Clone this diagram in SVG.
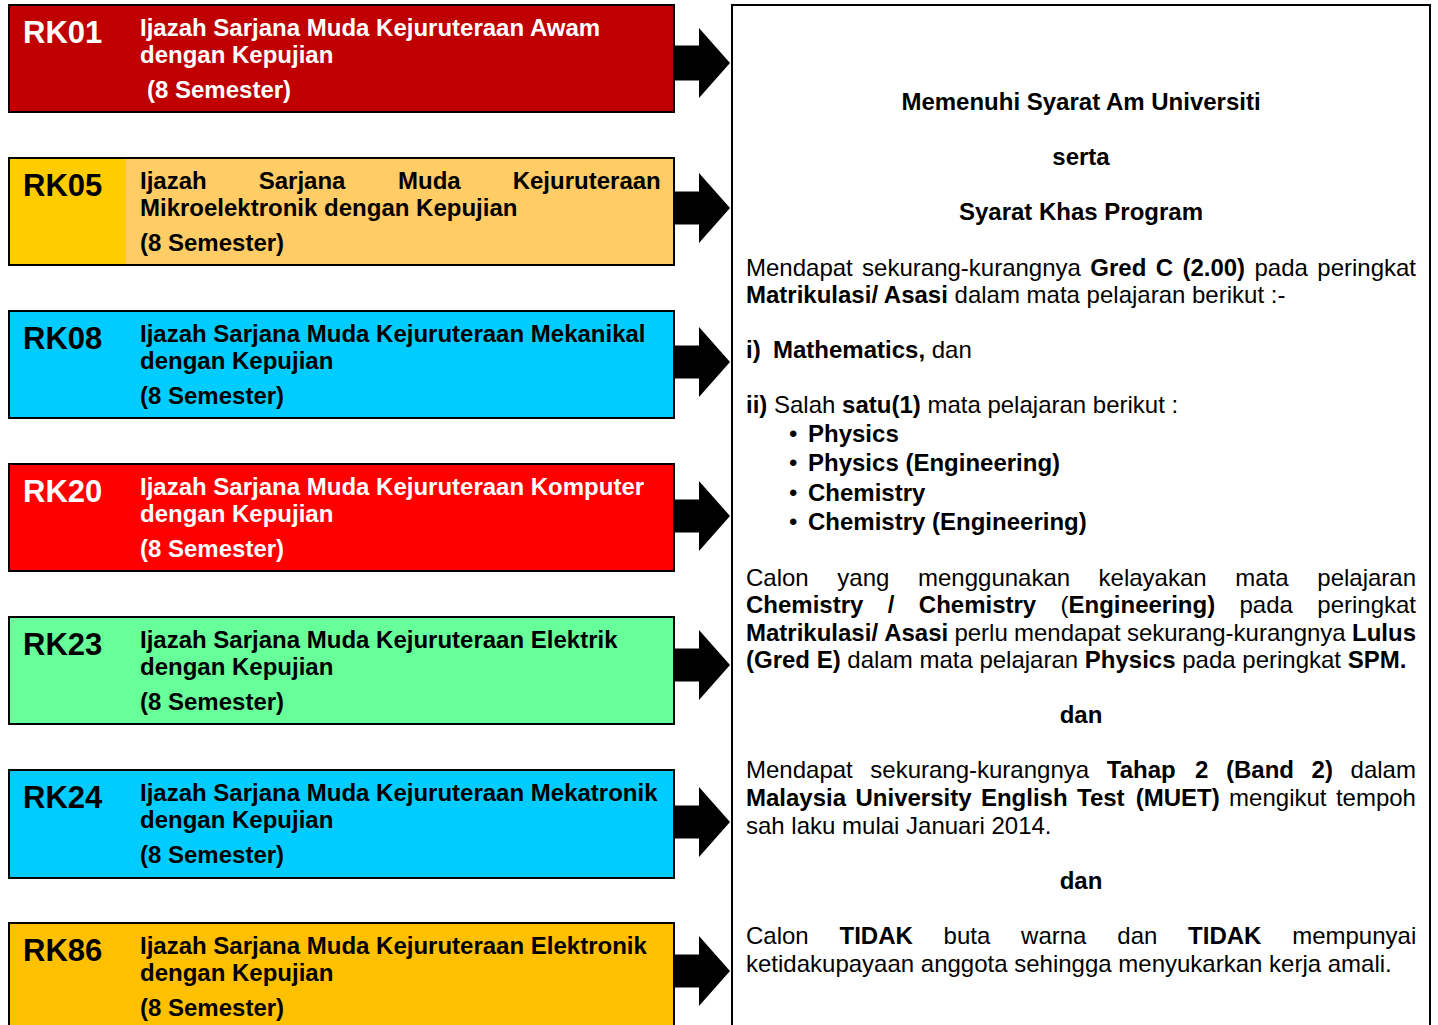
<svg xmlns="http://www.w3.org/2000/svg" width="1438" height="1025" viewBox="0 0 1438 1025">
<style>
text{font-family:"Liberation Sans",Arial,sans-serif;font-size:24px;fill:#000}
.b{font-weight:bold}
.code{font-weight:bold;font-size:31px}
.w{fill:#fff}
.box{stroke:#000;stroke-width:2}
.arrow{fill:#000}
.panel{fill:#fff;stroke:#000;stroke-width:2}
</style>
<rect width="1438" height="1025" fill="#fff"/>

<g id="rk01">
<rect class="box" x="9" y="5" width="665" height="107" fill="#C00000"/>
<text class="code w" x="23" y="43">RK01</text>
<text class="b w" x="140" y="36">Ijazah Sarjana Muda Kejuruteraan Awam</text>
<text class="b w" x="140" y="63">dengan Kepujian</text>
<text class="b w" x="147" y="98">(8 Semester)</text>
</g>

<g id="rk05">
<rect class="box" x="9" y="158" width="665" height="107" fill="#FFCC66"/>
<rect x="10" y="159" width="116" height="105" fill="#FFCC00"/>
<text class="code" x="23" y="196">RK05</text>
<text class="b" y="189"><tspan x="140">Ijazah</tspan><tspan x="258.7">Sarjana</tspan><tspan x="398">Muda</tspan><tspan x="512.7">Kejuruteraan</tspan></text>
<text class="b" x="140" y="216">Mikroelektronik dengan Kepujian</text>
<text class="b" x="140" y="251">(8 Semester)</text>
</g>

<g id="rk08">
<rect class="box" x="9" y="311" width="665" height="107" fill="#00CCFF"/>
<text class="code" x="23" y="349">RK08</text>
<text class="b" x="140" y="342">Ijazah Sarjana Muda Kejuruteraan Mekanikal</text>
<text class="b" x="140" y="369">dengan Kepujian</text>
<text class="b" x="140" y="404">(8 Semester)</text>
</g>

<g id="rk20">
<rect class="box" x="9" y="464" width="665" height="107" fill="#FF0000"/>
<text class="code w" x="23" y="502">RK20</text>
<text class="b w" x="140" y="495">Ijazah Sarjana Muda Kejuruteraan Komputer</text>
<text class="b w" x="140" y="522">dengan Kepujian</text>
<text class="b w" x="140" y="557">(8 Semester)</text>
</g>

<g id="rk23">
<rect class="box" x="9" y="617" width="665" height="107" fill="#66FF99"/>
<text class="code" x="23" y="655">RK23</text>
<text class="b" x="140" y="648">Ijazah Sarjana Muda Kejuruteraan Elektrik</text>
<text class="b" x="140" y="675">dengan Kepujian</text>
<text class="b" x="140" y="710">(8 Semester)</text>
</g>

<g id="rk24">
<rect class="box" x="9" y="770" width="665" height="108" fill="#00CCFF"/>
<text class="code" x="23" y="808">RK24</text>
<text class="b" x="140" y="801">Ijazah Sarjana Muda Kejuruteraan Mekatronik</text>
<text class="b" x="140" y="828">dengan Kepujian</text>
<text class="b" x="140" y="863">(8 Semester)</text>
</g>

<g id="rk86">
<rect class="box" x="9" y="923" width="665" height="120" fill="#FFC000"/>
<text class="code" x="23" y="961">RK86</text>
<text class="b" x="140" y="954">Ijazah Sarjana Muda Kejuruteraan Elektronik</text>
<text class="b" x="140" y="981">dengan Kepujian</text>
<text class="b" x="140" y="1016">(8 Semester)</text>
</g>

<g id="connectors">
<polygon class="arrow" points="675,45.5 699,45.5 699,28 730,63 699,98 699,80.5 675,80.5"/>
<polygon class="arrow" points="675,191.5 699,191.5 699,173 730,208 699,243 699,224.5 675,224.5"/>
<polygon class="arrow" points="675,345.5 699,345.5 699,327 730,362 699,397 699,378.5 675,378.5"/>
<polygon class="arrow" points="675,499.5 699,499.5 699,481 730,516 699,551 699,532.5 675,532.5"/>
<polygon class="arrow" points="675,648.5 699,648.5 699,630 730,665 699,700 699,681.5 675,681.5"/>
<polygon class="arrow" points="675,805.5 699,805.5 699,787 730,822 699,857 699,838.5 675,838.5"/>
<polygon class="arrow" points="675,954.5 699,954.5 699,936 730,971 699,1006 699,987.5 675,987.5"/>
</g>

<g id="requirements">
<rect class="panel" x="732" y="5" width="698" height="1040"/>
<text class="b" x="1081" y="110" text-anchor="middle">Memenuhi Syarat Am Universiti</text>
<text class="b" x="1081" y="165" text-anchor="middle">serta</text>
<text class="b" x="1081" y="220" text-anchor="middle">Syarat Khas Program</text>

<text y="276"><tspan x="746">Mendapat</tspan><tspan x="862.1">sekurang-kurangnya</tspan><tspan class="b" x="1090.3">Gred</tspan><tspan class="b" x="1155.7">C</tspan><tspan class="b" x="1182.4">(2.00)</tspan><tspan x="1254.5">pada</tspan><tspan x="1317.3">peringkat</tspan></text>
<text x="746" y="303"><tspan class="b">Matrikulasi/ Asasi</tspan> dalam mata pelajaran berikut :-</text>

<text x="746" y="358"><tspan class="b">i)</tspan><tspan class="b" x="773">Mathematics,</tspan> dan</text>
<text x="746" y="413"><tspan class="b">ii)</tspan> Salah <tspan class="b">satu(1)</tspan> mata pelajaran berikut :</text>

<text x="789" y="442">•</text><text class="b" x="808" y="442">Physics</text>
<text x="789" y="471">•</text><text class="b" x="808" y="471">Physics (Engineering)</text>
<text x="789" y="501">•</text><text class="b" x="808" y="501">Chemistry</text>
<text x="789" y="530">•</text><text class="b" x="808" y="530">Chemistry (Engineering)</text>

<text y="586"><tspan x="746">Calon</tspan><tspan x="837.3">yang</tspan><tspan x="918">menggunakan</tspan><tspan x="1098.6">kelayakan</tspan><tspan x="1235.3">mata</tspan><tspan x="1317.3">pelajaran</tspan></text>
<text y="613"><tspan class="b" x="746">Chemistry</tspan><tspan class="b" x="887.7">/</tspan><tspan class="b" x="918.8">Chemistry</tspan><tspan x="1060.5">(</tspan><tspan class="b">Engineering)</tspan><tspan x="1239.5">pada</tspan><tspan x="1317.3">peringkat</tspan></text>
<text y="641"><tspan class="b" x="746">Matrikulasi/</tspan><tspan class="b" x="884.2">Asasi</tspan><tspan x="954.4">perlu</tspan><tspan x="1014">mendapat</tspan><tspan x="1126.9">sekurang-kurangnya</tspan><tspan class="b" x="1352">Lulus</tspan></text>
<text x="746" y="668"><tspan class="b">(Gred E)</tspan> dalam mata pelajaran <tspan class="b">Physics</tspan> pada peringkat <tspan class="b">SPM.</tspan></text>

<text class="b" x="1081" y="723" text-anchor="middle">dan</text>

<text y="778"><tspan x="746">Mendapat</tspan><tspan x="870.3">sekurang-kurangnya</tspan><tspan class="b" x="1106.8">Tahap</tspan><tspan class="b" x="1195.1">2</tspan><tspan class="b" x="1226">(Band</tspan><tspan class="b" x="1311.6">2)</tspan><tspan x="1350.6">dalam</tspan></text>
<text y="806"><tspan class="b" x="746">Malaysia</tspan><tspan class="b" x="855.5">University</tspan><tspan class="b" x="980.9">English</tspan><tspan class="b" x="1077">Test</tspan><tspan class="b" x="1135.7">(MUET)</tspan><tspan x="1229.1">mengikut</tspan><tspan x="1335.9">tempoh</tspan></text>
<text x="746" y="834">sah laku mulai Januari 2014.</text>

<text class="b" x="1081" y="889" text-anchor="middle">dan</text>

<text y="944"><tspan x="746">Calon</tspan><tspan class="b" x="839.5">TIDAK</tspan><tspan x="943.6">buta</tspan><tspan x="1021.1">warna</tspan><tspan x="1117.3">dan</tspan><tspan class="b" x="1188.1">TIDAK</tspan><tspan x="1292.2">mempunyai</tspan></text>
<text x="746" y="972">ketidakupayaan anggota sehingga menyukarkan kerja amali.</text>
</g>
</svg>
